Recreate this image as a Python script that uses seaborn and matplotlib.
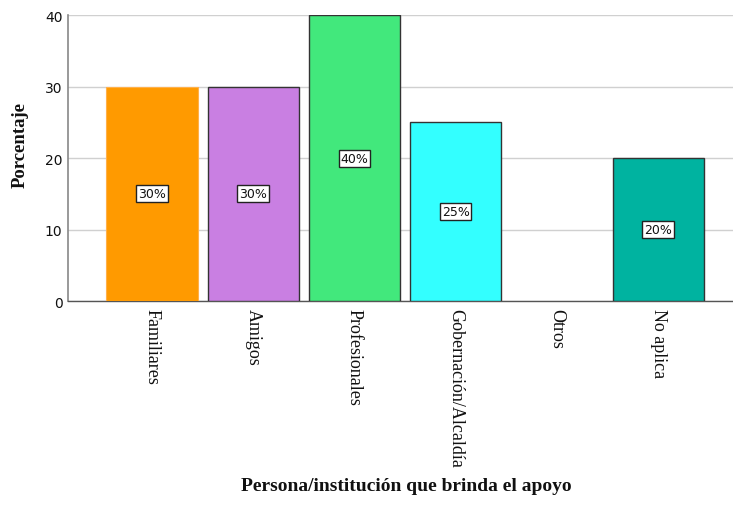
import matplotlib
matplotlib.use("Agg")
import matplotlib.pyplot as plt
import seaborn as sns
import pandas as pd

categorias = ["Familiares", "Amigos", "Profesionales", "Gobernación/Alcaldía", "Otros", "No aplica"]
porcentajes = [30, 30, 40, 25, 0, 20]
colores = ["#FF9A00", "#C97FE2", "#42E87C", "#33FFFF", "#FFFFFF", "#00B3A0"]
y_ticks = [0, 10, 20, 30, 40]

df = pd.DataFrame({"categoria": categorias, "porcentaje": porcentajes})

sns.set_theme(style="white")
plt.rcParams["font.family"] = ["DejaVu Sans"]

fig = plt.figure(figsize=(7.33, 5.06), dpi=100)
ax = fig.add_axes([0.0928, 0.403, 0.9072, 0.565])

sns.barplot(data=df, x="categoria", y="porcentaje", hue="categoria",
            palette=dict(zip(categorias, colores)), order=categorias,
            width=0.9, saturation=1, legend=False, ax=ax, zorder=3)

for patch, cat, val in zip(ax.patches, categorias, porcentajes):
    if val == 0:
        patch.set_visible(False)
    elif cat == "Familiares":
        patch.set_edgecolor("#FFB04A")
        patch.set_linewidth(0.8)
    else:
        patch.set_edgecolor("#333333")
        patch.set_linewidth(1.0)

for cont in ax.containers:
    labels = [f"{int(v)}%" if v > 0 else "" for v in cont.datavalues]
    ax.bar_label(cont, labels=labels, label_type="center", fontsize=9,
                 color="#111111", zorder=5,
                 bbox=dict(boxstyle="square,pad=0.15", facecolor="white",
                           edgecolor="#222222", linewidth=1.0))

ax.set_ylim(0, 40)
ax.set_xlim(-0.83, 5.74)
ax.set_yticks(y_ticks)
ax.set_yticklabels([str(t) for t in y_ticks], fontsize=10, color="#111111")
ax.yaxis.grid(True, color="#D0D0D0", linewidth=1.0, zorder=0)
ax.set_axisbelow(True)
ax.tick_params(axis="y", length=0, pad=4)
ax.tick_params(axis="x", length=0, pad=5)

ax.set_xticks(range(len(categorias)))
ax.set_xticklabels(categorias, rotation=270, fontsize=13, color="#111111",
                   family="Liberation Serif", va="top", ha="center")

for side in ["top", "right"]:
    ax.spines[side].set_visible(False)
ax.spines["left"].set_color("#888888")
ax.spines["left"].set_linewidth(1.2)
ax.spines["bottom"].set_color("#555555")
ax.spines["bottom"].set_linewidth(1.0)

ax.set_ylabel("")
ax.set_xlabel("")
fig.text(0.027, 0.713, "Porcentaje", family="Liberation Serif",
         fontweight="bold", fontsize=13.5, rotation=90,
         ha="center", va="center", color="#111111")
fig.text(0.554, 0.022, "Persona/institución que brinda el apoyo",
         family="Liberation Serif", fontweight="bold", fontsize=14,
         ha="center", va="bottom", color="#111111")

fig.savefig("out.png", dpi=100, facecolor="white")
